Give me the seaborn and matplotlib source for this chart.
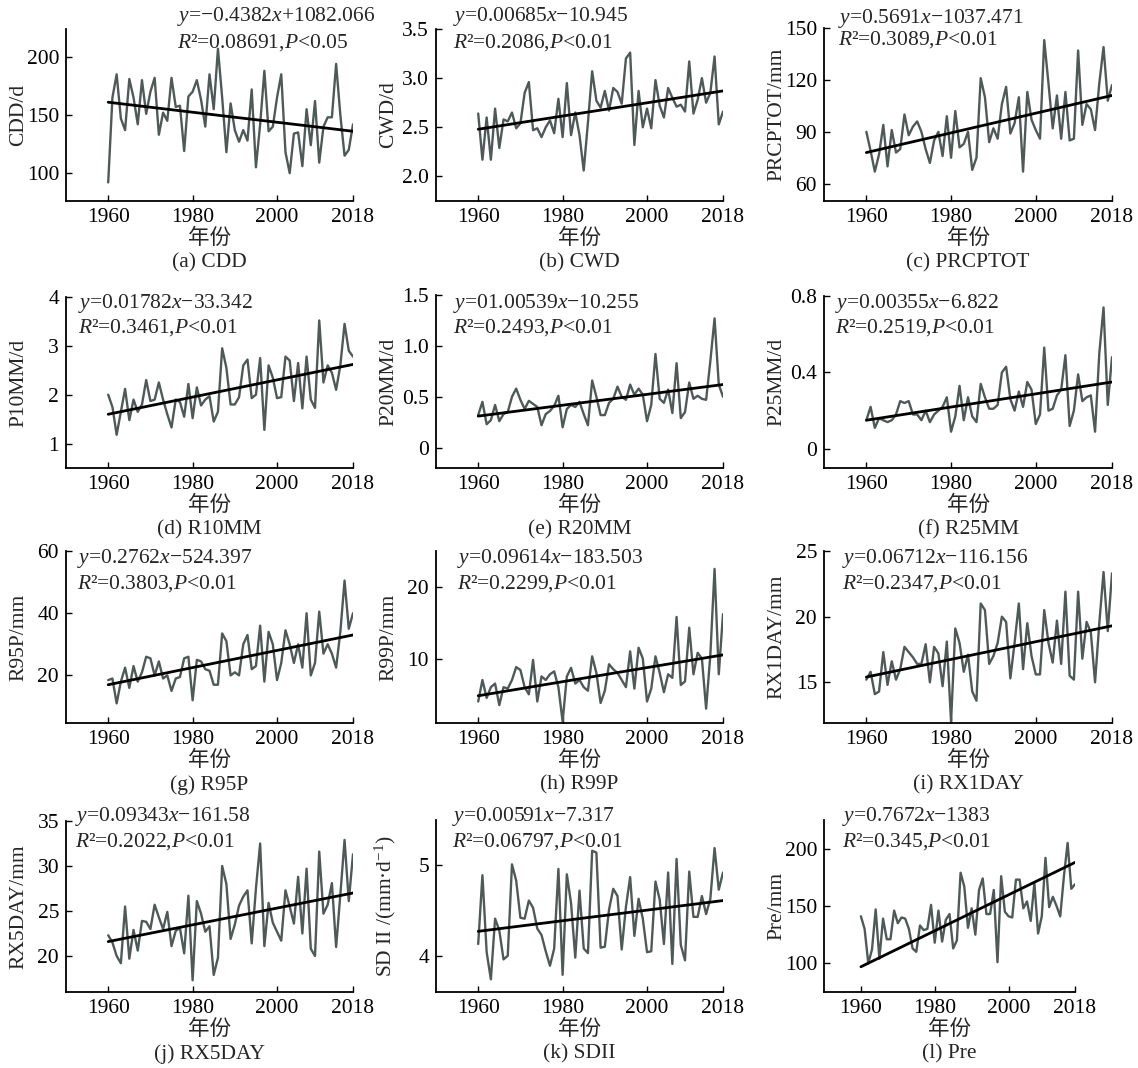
import numpy as np
import pandas as pd
import matplotlib
matplotlib.use("Agg")
import matplotlib.pyplot as plt
import seaborn as sns

years = np.arange(1960, 2019)

cdd = [92,165,185,147,137,181,165,142,180,151,
       170,182,133,152,145,182,157,158,119,166,
       170,180,163,140,185,155,207,165,118,160,
       137,127,137,128,172,105,142,188,136,140,
       165,185,118,100,134,135,106,155,124,162,
       109,140,148,148,194,150,115,120,142]
cwd = [2.64,2.17,2.60,2.17,2.69,2.29,2.58,2.56,2.65,2.49,
       2.54,2.85,2.96,2.47,2.49,2.40,2.50,2.57,2.44,2.79,
       2.40,2.95,2.42,2.65,2.42,2.06,2.55,3.07,2.77,2.70,
       2.87,2.67,2.90,2.86,2.74,3.20,3.26,2.32,2.87,2.50,
       2.69,2.49,2.98,2.72,2.60,2.90,2.80,2.71,2.73,2.66,
       3.17,2.64,2.78,3.00,2.75,2.85,3.22,2.53,2.66]
prcptot = [90,79,67,77,94,70,91,78,80,100,
           88,93,96,90,80,72,85,90,76,99,
           75,102,81,83,90,68,75,121,110,84,
           92,86,106,116,89,95,110,67,113,97,
           91,86,143,118,92,111,86,113,85,86,
           137,94,106,103,91,118,139,108,117]
r10mm = [2.00,1.75,1.18,1.65,2.12,1.48,1.90,1.65,1.80,2.30,
         1.87,1.90,2.25,1.90,1.60,1.33,1.90,1.85,1.55,2.22,
         1.52,2.15,1.78,1.90,1.97,1.45,1.65,2.95,2.55,1.80,
         1.80,1.95,2.60,2.72,1.93,2.00,2.75,1.28,2.60,2.35,
         1.93,1.95,2.78,2.70,1.87,2.65,1.72,2.78,1.90,1.73,
         3.52,2.25,2.60,2.45,2.10,2.60,3.45,2.90,2.78]
r20mm = [0.32,0.45,0.23,0.27,0.42,0.26,0.33,0.35,0.50,0.58,
         0.47,0.38,0.46,0.43,0.40,0.22,0.33,0.36,0.41,0.51,
         0.20,0.38,0.42,0.40,0.45,0.33,0.22,0.66,0.50,0.32,
         0.32,0.44,0.48,0.60,0.50,0.47,0.62,0.52,0.58,0.52,
         0.26,0.42,0.92,0.48,0.44,0.57,0.34,0.83,0.29,0.35,
         0.64,0.48,0.51,0.48,0.47,0.85,1.27,0.62,0.50]
r25mm = [0.15,0.22,0.11,0.16,0.15,0.14,0.15,0.18,0.25,0.24,
         0.25,0.18,0.18,0.15,0.20,0.14,0.18,0.20,0.22,0.27,
         0.09,0.17,0.33,0.15,0.27,0.17,0.14,0.34,0.27,0.21,
         0.21,0.23,0.40,0.43,0.26,0.20,0.30,0.22,0.35,0.31,
         0.13,0.18,0.53,0.20,0.21,0.28,0.31,0.49,0.12,0.20,
         0.39,0.25,0.27,0.28,0.09,0.50,0.74,0.23,0.48]
r95p = [18.5,19,11,18,22.5,16,23,18,21,26,
        25.5,20,24.5,19,20,15,19,19.5,25.5,26,
        12,25,24.5,22,21.5,17,17,33.5,31,20,
        21,20,30,33,22,23,36,18,34,30,
        18.5,24,34.5,30,24,30,22.5,40,20,24,
        40.5,27,30,27,22.5,34,50.5,35,40]
r99p = [4.0,7.0,4.5,6.0,6.5,3.5,6.0,5.8,7.0,8.8,
        8.4,6.0,5.0,9.8,4.0,7.5,7.0,7.8,8.2,6.0,
        1.2,7.5,8.7,6.5,7.0,6.0,5.5,10.3,8.0,3.8,
        5.5,9.2,8.5,8.0,7.0,6.0,11.0,5.8,11.5,10.0,
        4.0,5.8,10.3,8.0,5.3,7.8,7.3,15.8,6.3,6.8,
        14.3,7.8,10.8,10.0,3.0,10.5,22.5,7.8,16.2]
rx1day = [15.2,15.8,14.1,14.3,17.3,14.8,16.6,15.2,16.0,17.7,
          17.3,16.9,16.4,16.4,17.9,15.0,17.7,17.2,14.7,18.1,
          12.0,19.1,18.0,15.8,17.1,14.3,13.6,21.0,20.5,16.4,
          17.0,18.0,20.0,19.6,15.3,18.0,21.0,16.0,19.5,17.0,
          15.6,15.6,20.5,18.0,16.5,19.7,16.4,21.9,15.5,15.2,
          21.9,16.8,19.6,18.8,15.0,19.5,23.4,18.9,23.3]
rx5day = [22.3,21.5,20.0,19.2,25.5,19.7,22.9,20.6,23.9,23.8,
          23.0,25.7,24.3,23.0,24.9,21.1,22.8,23.1,20.3,26.7,
          17.3,26.1,24.7,22.7,23.3,17.9,19.8,30.0,28.0,21.9,
          23.5,25.6,26.6,27.3,21.4,27.5,32.5,21.1,25.9,23.7,
          22.7,21.7,27.3,25.5,23.6,28.8,22.5,29.7,20.8,20.0,
          31.6,24.7,25.7,28.1,21.0,26.8,32.9,26.1,31.3]
sdii = [4.13,4.89,4.04,3.74,4.41,4.28,3.96,4.00,5.01,4.83,
        4.42,4.41,4.61,4.53,4.30,4.23,4.05,3.89,4.08,4.96,
        3.79,4.90,4.58,3.98,4.72,4.08,4.03,5.16,5.14,4.09,
        4.10,4.51,4.74,4.66,4.07,4.54,4.87,4.22,4.63,4.41,
        4.04,4.05,4.82,4.62,4.13,4.92,3.91,5.07,4.12,3.95,
        4.93,4.43,4.43,4.66,4.46,4.63,5.19,4.73,4.92]
pre = [141,130,100,112,147,104,139,121,121,146,
       135,140,139,130,113,110,133,129,130,151,
       118,146,119,138,143,113,120,179,167,131,
       148,125,164,174,143,143,164,101,176,145,
       141,140,173,173,148,154,137,170,126,141,
       192,149,158,150,141,176,205,165,169]

# trend line values read at 1960 and 2018
trend_1960 = [161, 2.48, 78, 1.60, 0.31, 0.15, 17.0, 4.8, 15.4, 21.6, 4.27, 97]
trend_2018 = [136, 2.87, 111, 2.62, 0.62, 0.35, 33.0, 10.5, 19.3, 27.0, 4.61, 188]

series = [cdd, cwd, prcptot, r10mm, r20mm, r25mm, r95p, r99p, rx1day, rx5day, sdii, pre]
ylabels = ["CDD/d", "CWD/d", "PRCPTOT/mm", "P10MM/d", "P20MM/d", "P25MM/d",
           "R95P/mm", "R99P/mm", "RX1DAY/mm", "RX5DAY/mm", "SD II /(mm·d$^{-1}$)", "Pre/mm"]
captions = ["(a) CDD", "(b) CWD", "(c) PRCPTOT", "(d) R10MM", "(e) R20MM", "(f) R25MM",
            "(g) R95P", "(h) R99P", "(i) RX1DAY", "(j) RX5DAY", "(k) SDII", "(l) Pre"]
eq_texts = ["$y$=−0.4382$x$+1082.066", "$y$=0.00685$x$−10.945", "$y$=0.5691$x$−1037.471",
            "$y$=0.01782$x$−33.342", "$y$=01.00539$x$−10.255", "$y$=0.00355$x$−6.822",
            "$y$=0.2762$x$−524.397", "$y$=0.09614$x$−183.503", "$y$=0.06712$x$−116.156",
            "$y$=0.09343$x$−161.58", "$y$=0.00591$x$−7.317", "$y$=0.7672$x$−1383"]
r2_texts = ["$R$²=0.08691,$P$<0.05", "$R$²=0.2086,$P$<0.01", "$R$²=0.3089,$P$<0.01",
            "$R$²=0.3461,$P$<0.01", "$R$²=0.2493,$P$<0.01", "$R$²=0.2519,$P$<0.01",
            "$R$²=0.3803,$P$<0.01", "$R$²=0.2299,$P$<0.01", "$R$²=0.2347,$P$<0.01",
            "$R$²=0.2022,$P$<0.01", "$R$²=0.06797,$P$<0.01", "$R$²=0.345,$P$<0.01"]
ylims = [(76, 224), (1.75, 3.5), (50, 150), (0.5, 4), (-0.2, 1.5), (-0.1, 0.8),
         (4.7, 60), (1, 25), (11.9, 25), (16, 35), (3.6, 5.5), (75, 225)]
yticks = [[100, 150, 200], [2.0, 2.5, 3.0, 3.5], [60, 90, 120, 150], [1, 2, 3, 4],
          [0, 0.5, 1.0, 1.5], [0, 0.4, 0.8], [20, 40, 60], [10, 20], [15, 20, 25],
          [20, 25, 30, 35], [4, 5], [100, 150, 200]]
yticklabels = [["100", "150", "200"], ["2.0", "2.5", "3.0", "3.5"], ["60", "90", "120", "150"],
               ["1", "2", "3", "4"], ["0", "0.5", "1.0", "1.5"], ["0", "0.4", "0.8"],
               ["20", "40", "60"], ["10", "20"], ["15", "20", "25"],
               ["20", "25", "30", "35"], ["4", "5"], ["100", "150", "200"]]
xticks = [1960, 1980, 2000, 2018]

for s in series:
    assert len(s) == 59

sns.set_theme(style="ticks")
plt.rcParams["font.family"] = ["Liberation Serif", "Noto Sans CJK SC", "DejaVu Sans"]
plt.rcParams["mathtext.fontset"] = "custom"
plt.rcParams["mathtext.rm"] = "Liberation Serif"
plt.rcParams["mathtext.it"] = "Liberation Serif:italic"
plt.rcParams["axes.unicode_minus"] = True

W, H = 1138, 1068
fig = plt.figure(figsize=(W / 100, H / 100), dpi=100)
fig.patch.set_facecolor("white")

# axes boxes in pixels: left, right, top, bottom
boxes = [(66, 353, 29, 201), (436, 723, 29, 201), (824, 1112, 28, 201),
         (66, 353, 297, 468), (436, 723, 295, 468), (824, 1112, 296, 468),
         (66, 353, 551, 723), (436, 723, 551, 723), (824, 1112, 551, 723),
         (66, 353, 821, 992), (436, 723, 820, 992), (824, 1075, 820, 992)]
# annotation anchor: left x, first line center y, second line center y
anns = [(177, 17, 43), (453, 16, 43), (838, 18, 40),
        (78, 303, 328), (453, 303, 328), (835, 303, 328),
        (77, 558, 584), (457, 558, 584), (842, 558, 584),
        (75, 817, 842), (452, 817, 842), (842, 817, 842)]

line_color = "#4f5a58"
fs = 15.5

for i in range(12):
    L, R, T, B = boxes[i]
    ax = fig.add_axes([L / W, 1 - B / H, (R - L) / W, (B - T) / H])
    ax.set_facecolor("white")
    df = pd.DataFrame({"year": years, "value": series[i]})
    sns.lineplot(data=df, x="year", y="value", ax=ax, color=line_color, lw=1.7)
    tdf = pd.DataFrame({"year": [1960, 2018], "value": [trend_1960[i], trend_2018[i]]})
    sns.lineplot(data=tdf, x="year", y="value", ax=ax, color="black", lw=2.0)
    ax.set_xlim(1950, 2018)
    ax.set_ylim(*ylims[i])
    ax.set_xticks(xticks)
    ax.set_xticklabels([str(x) for x in xticks], fontsize=fs)
    ax.set_yticks(yticks[i])
    ax.set_yticklabels(yticklabels[i], fontsize=fs)
    ax.tick_params(direction="in", length=4, width=1.0, colors="black", pad=5)
    for sp in ["top", "right"]:
        ax.spines[sp].set_visible(False)
    for sp in ["left", "bottom"]:
        ax.spines[sp].set_linewidth(1.3)
        ax.spines[sp].set_color("black")
    ax.set_xlabel("")
    ax.set_ylabel(ylabels[i], fontsize=fs)
    ax.yaxis.set_label_coords(-38 / (R - L), 0.5)
    cx = (L + R) / 2
    fig.text(cx / W, 1 - (B + 38) / H, "年份", ha="center", va="center", fontsize=fs)
    fig.text(cx / W, 1 - (B + 62) / H, captions[i], ha="center", va="center", fontsize=fs)
    ax_x, y1, y2 = anns[i]
    fig.text(ax_x / W, 1 - y1 / H, eq_texts[i], ha="left", va="center", fontsize=fs)
    fig.text(ax_x / W, 1 - y2 / H, r2_texts[i], ha="left", va="center", fontsize=fs)

fig.savefig("out.png", dpi=100, facecolor="white")
